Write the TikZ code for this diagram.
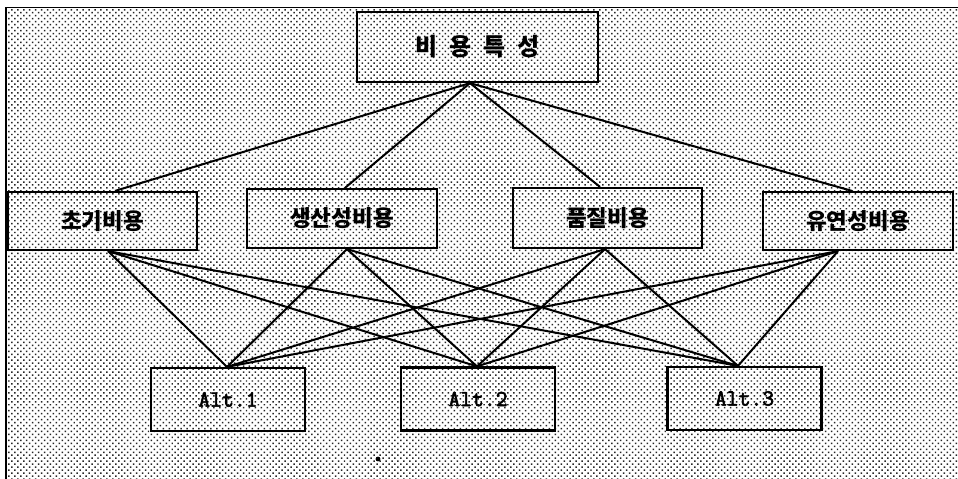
\documentclass[tikz,border=0pt]{standalone}
\usepackage{fontspec}
\newfontfamily\kr{Noto Sans CJK KR}
\newfontfamily\altfont{Latin Modern Mono}[FakeBold=2.6]
\usetikzlibrary{calc,patterns.meta}

\tikzset{
  costbox/.style={draw, line width=2.2pt, inner sep=0pt, align=center,
    font=\kr\bfseries\fontsize{22.5}{24}\selectfont},
  altbox/.style={draw, line width=2.2pt, inner sep=0pt,
    minimum width=154pt, minimum height=63pt,
    font=\altfont\fontsize{23}{25}\selectfont},
  link/.style={line width=2pt},
}

\begin{document}
\begin{tikzpicture}[x=1pt, y=-1pt]
  \useasboundingbox (0,0) rectangle (958,479);

  % halftone background and frame
  \fill[white] (0,0) rectangle (958,479);
  \fill[pattern={Dots[distance=4.2pt, radius=1.05pt, angle=45]},
        pattern color=black!85] (6,7.5) rectangle (960,481);
  \draw[line width=1.8pt] (6,481) -- (6,7.5) -- (960,7.5);

  % goal
  \node[costbox, minimum width=241pt, minimum height=70pt,
        font=\kr\bfseries\fontsize{24}{26}\selectfont] (goal) at (477.5,47)
    {비\hspace{12pt}용\hspace{12pt}특\hspace{12pt}성};

  % criteria
  \node[costbox, minimum width=189pt, minimum height=58pt] (c1) at (102.5,221) {초기비용};
  \node[costbox, minimum width=190pt, minimum height=59pt] (c2) at (342,218.5) {생산성비용};
  \node[costbox, minimum width=189pt, minimum height=60pt] (c3) at (607.5,218) {품질비용};
  \node[costbox, minimum width=190pt, minimum height=58pt] (c4) at (858,221) {유연성비용};

  % alternatives
  \node[altbox] (a1) at (228,399.5) {Alt.1};
  \node[altbox] (a2) at (478,399) {Alt.2};
  \node[altbox] (a3) at (744.5,398.5) {Alt.3};

  % attachment points
  \coordinate (g) at ($(goal.south)+(-7.5,0)$);
  \coordinate (c1t) at ($(c1.north)+(12.5,0)$);
  \coordinate (c2t) at ($(c2.north)+(3,0)$);
  \coordinate (c3t) at ($(c3.north)+(-7.5,0)$);
  \coordinate (c4t) at ($(c4.north)+(-6,0)$);
  \coordinate (c1b) at ($(c1.south)+(5.5,0)$);
  \coordinate (c2b) at ($(c2.south)+(5,0)$);
  \coordinate (c3b) at ($(c3.south)+(-2.5,0)$);
  \coordinate (c4b) at ($(c4.south)+(-20,0)$);
  \coordinate (a1t) at ($(a1.north)+(-1,0)$);
  \coordinate (a2t) at ($(a2.north)+(-1,0)$);
  \coordinate (a3t) at ($(a3.north)+(-6.5,0)$);

  % goal to criteria
  \foreach \c in {c1t,c2t,c3t,c4t}
    \draw[link] (g) -- (\c);

  % criteria to alternatives
  \foreach \c in {c1b,c2b,c3b,c4b}
    \foreach \a in {a1t,a2t,a3t}
      \draw[link] (\c) -- (\a);

  % stray dot below the alternatives
  \fill (378,459) circle (2.4pt);
\end{tikzpicture}
\end{document}
